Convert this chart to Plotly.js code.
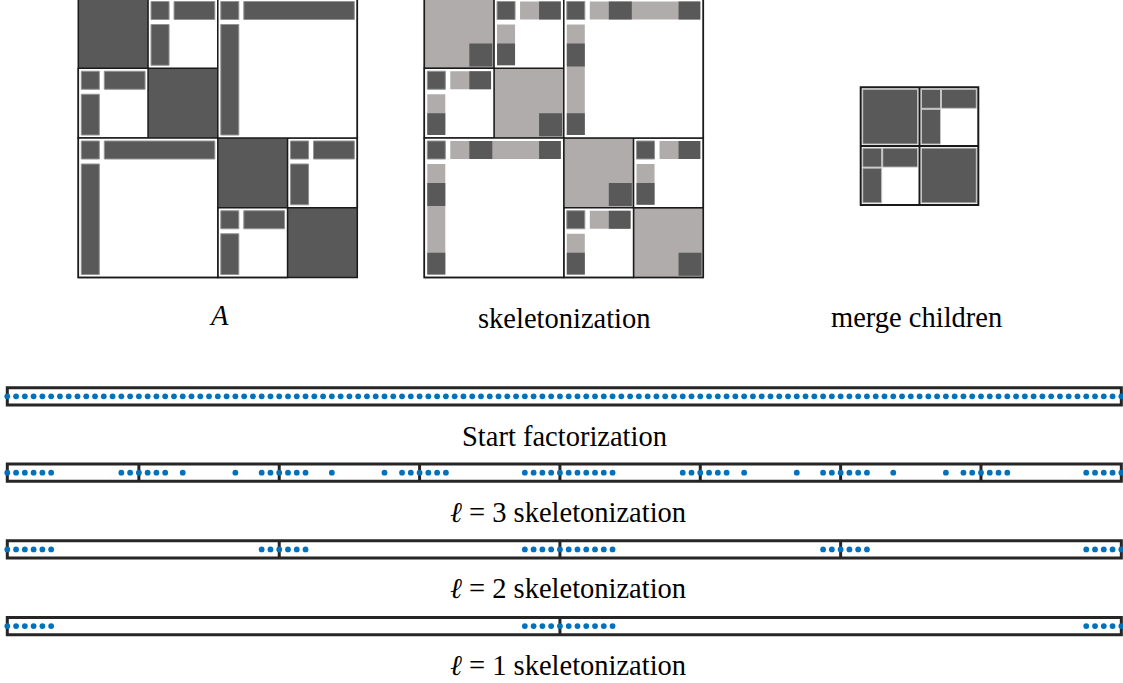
<!DOCTYPE html>
<html><head><meta charset="utf-8">
<script src="https://cdn.plot.ly/plotly-3.0.1.min.js"></script>
<style>html,body{margin:0;padding:0;background:#fff}</style>
</head><body><div id="chart" style="width:1123px;height:683px"></div>
<script>
// ---------------- data ----------------
const N_POINTS = 128;
const startPoints = Array.from({length: N_POINTS}, (_, i) => i);
const level3Points = [0,1,2,3,4,5,13,14,15, 16,17,18,20,26,29,30,31, 32,33,34,37,43,45,46,47, 48,49,50,59,60,61,62,63,
                      64,65,66,67,68,69,77,78,79, 80,81,82,84,90,93,94,95, 96,97,98,101,107,109,110,111, 112,113,114,123,124,125,126,127];
const level2Points = [0,1,2,3,4,5,29,30,31, 32,33,34,59,60,61,62,63, 64,65,66,67,68,69,93,94,95, 96,97,98,123,124,125,126,127];
const level1Points = [0,1,2,3,4,5,59,60,61,62,63, 64,65,66,67,68,69,123,124,125,126,127];
const startDividers = [];
const level3Dividers = [15,31,47,63,79,95,111];
const level2Dividers = [31,63,95];
const level1Dividers = [63];
const rowLabels = ['Start factorization', '<i>ℓ</i> = 3 skeletonization', '<i>ℓ</i> = 2 skeletonization', '<i>ℓ</i> = 1 skeletonization'];
const matrixLabels = ['<i>A</i>', 'skeletonization', 'merge children'];
// HODLR block structure, in leaf units (4 x 4 leaves)
const diagLeaves = [0, 1, 2, 3];
const offDiagBlocks = [[0,1,1],[1,0,1],[2,3,1],[3,2,1],[0,2,2],[2,0,2]]; // row, col, size
const mergeDiag = [0, 1];
const mergeOff = [[0,1],[1,0]];

// ---------------- layout constants ----------------
const rows = [
  {pts: startPoints, div: startDividers, y: 396.3},
  {pts: level3Points, div: level3Dividers, y: 472.7},
  {pts: level2Points, div: level2Dividers, y: 549.4},
  {pts: level1Points, div: level1Dividers, y: 626.1}
];
const HALF_H = 8.6;
const MATS = [{x:78.3, y:-1.5, size:279}, {x:424.3, y:-1.5, size:279}];
const MERGE = {x:860.7, y:87.3, size:117.6};
const DARK = '#595959', LIGHT = '#afacab', EDGE = '#939393', BLACK = '#1a1a1a', BAR = '#262626';
const INSET = 3, SQ = 18, GAP = 5, SK0 = 45, SK1 = 68;

const shapes = [];
function rect(x0, y0, x1, y1, fill, lc, lw, xref) {
  shapes.push({type:'rect', xref: xref || 'x', yref:'y', x0, y0, x1, y1,
    fillcolor: fill, line:{color: lc, width: lw}, layer:'below'});
}
function line(x0, y0, x1, y1, lc, lw, xref) {
  shapes.push({type:'line', xref: xref || 'x', yref:'y', x0, y0, x1, y1,
    line:{color: lc, width: lw}, layer:'below'});
}

function drawMatrix(m, skeleton) {
  const L = m.size / 4;
  diagLeaves.forEach(k => {
    const x0 = m.x + k*L, y0 = m.y + k*L;
    if (!skeleton) rect(x0, y0, x0+L, y0+L, DARK, DARK, 0);
    else {
      rect(x0, y0, x0+L, y0+L, LIGHT, '#6a6a6a', 1.5);
      rect(x0+SK0, y0+SK0, x0+SK1, y0+SK1, DARK, DARK, 0);
    }
  });
  offDiagBlocks.forEach(([r, c, n]) => {
    const x0 = m.x + c*L, y0 = m.y + r*L, x1 = x0 + n*L, y1 = y0 + n*L;
    rect(x0, y0, x1, y1, '#ffffff', BLACK, 1.5);
    rect(x0+INSET, y0+INSET, x0+INSET+SQ, y0+INSET+SQ, DARK, EDGE, 1);
    const hb0 = x0+INSET+SQ+GAP, hb1 = x1-INSET;
    const vb0 = y0+INSET+SQ+GAP, vb1 = y1-INSET;
    if (!skeleton) {
      rect(hb0, y0+INSET, hb1, y0+INSET+SQ, DARK, EDGE, 1);
      rect(x0+INSET, vb0, x0+INSET+SQ, vb1, DARK, EDGE, 1);
    } else {
      rect(hb0, y0+INSET, hb1, y0+INSET+SQ, LIGHT, LIGHT, 0);
      rect(x0+INSET, vb0, x0+INSET+SQ, vb1, LIGHT, LIGHT, 0);
      for (let k = 0; k < n; k++) {
        const a = Math.max(hb0, x0+k*L+SK0), b = Math.min(hb1, x0+k*L+SK1);
        if (b > a) rect(a, y0+INSET, b, y0+INSET+SQ, DARK, DARK, 0);
        const a2 = Math.max(vb0, y0+k*L+SK0), b2 = Math.min(vb1, y0+k*L+SK1);
        if (b2 > a2) rect(x0+INSET, a2, x0+INSET+SQ, b2, DARK, DARK, 0);
      }
    }
  });
  rect(m.x, m.y, m.x+m.size, m.y+m.size, 'rgba(0,0,0,0)', BLACK, 1.5);
}

function drawMerge(m) {
  const H = m.size / 2, E = '#c4c4c4';
  mergeDiag.forEach(k => {
    const x0 = m.x + k*H, y0 = m.y + k*H;
    rect(x0+2, y0+2, x0+H-2, y0+H-2, DARK, E, 1);
  });
  mergeOff.forEach(([r, c]) => {
    const x0 = m.x + c*H, y0 = m.y + r*H, x1 = x0 + H, y1 = y0 + H;
    rect(x0+2, y0+2, x0+21, y0+21, DARK, E, 1);
    rect(x0+22, y0+2, x1-2, y0+21, DARK, E, 1);
    rect(x0+2, y0+22, x0+21, y1-2, DARK, E, 1);
  });
  rect(m.x, m.y, m.x+m.size, m.y+m.size, 'rgba(0,0,0,0)', BLACK, 2);
  line(m.x+H, m.y, m.x+H, m.y+m.size, BLACK, 2);
  line(m.x, m.y+H, m.x+m.size, m.y+H, BLACK, 2);
}

drawMatrix(MATS[0], false);
drawMatrix(MATS[1], true);
drawMerge(MERGE);

rows.forEach(r => {
  rect(0, r.y-HALF_H, N_POINTS-1, r.y+HALF_H, '#ffffff', BAR, 3, 'x2');
  r.div.forEach(d => line(d, r.y-HALF_H, d, r.y+HALF_H, BAR, 3, 'x2'));
});

const traces = rows.map(r => ({
  type:'scatter', mode:'markers', x: r.pts, y: r.pts.map(() => r.y),
  xaxis:'x2', yaxis:'y', hoverinfo:'skip',
  marker:{size:5.8, color:'#0072bd', line:{width:0}}
}));

const FONT = {family:'Liberation Serif', size:28.5, color:'#000000'};
const annotations = [];
const matLabelPos = [[218.7, 315.5], [564, 318.2], [916, 317.8]];
matrixLabels.forEach((t, i) => annotations.push({text: t, x: matLabelPos[i][0], y: matLabelPos[i][1],
  xref:'x', yref:'y', showarrow:false, xanchor:'center', yanchor:'middle', font: FONT}));
const rowLabelPos = [[564, 436.2], [567.5, 512.2], [567.5, 588.7], [567.5, 665.2]];
rowLabels.forEach((t, i) => annotations.push({text: t, x: rowLabelPos[i][0], y: rowLabelPos[i][1],
  xref:'x', yref:'y', showarrow:false, xanchor:'center', yanchor:'middle', font: FONT}));

const layout = {
  width:1123, height:683, margin:{l:0, r:0, t:0, b:0},
  paper_bgcolor:'#ffffff', plot_bgcolor:'#ffffff', showlegend:false,
  xaxis:{range:[0,1123], visible:false, fixedrange:true},
  xaxis2:{range:[-0.832,127.19], overlaying:'x', anchor:'y', visible:false, fixedrange:true},
  yaxis:{range:[683,0], visible:false, fixedrange:true},
  shapes, annotations
};
Plotly.newPlot('chart', traces, layout, {staticPlot:true, displayModeBar:false});
</script></body></html>
